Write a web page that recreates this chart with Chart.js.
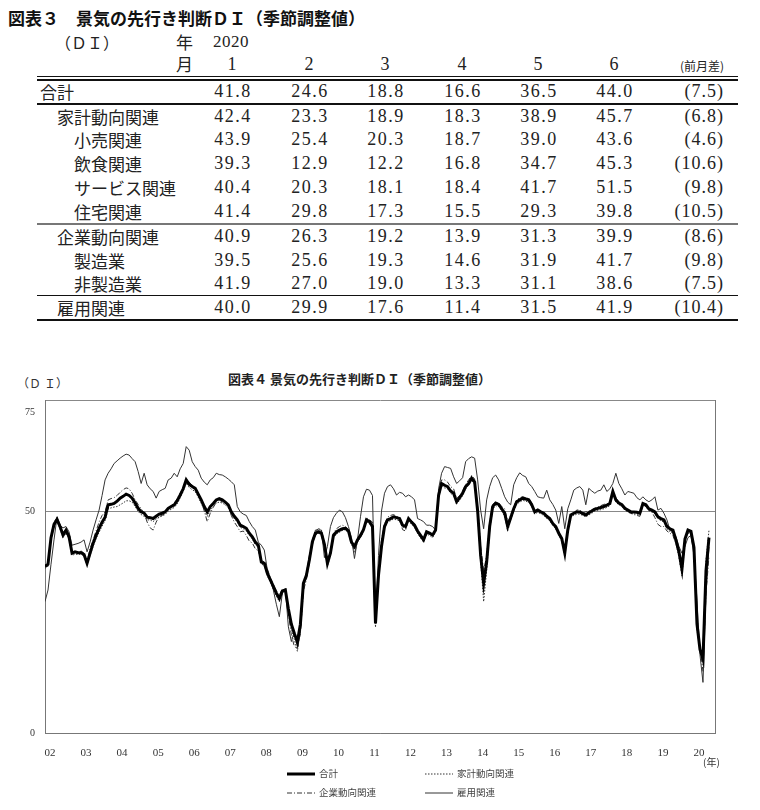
<!DOCTYPE html>
<html>
<head>
<meta charset="utf-8">
<script src="https://cdn.jsdelivr.net/npm/chart.js@4.4.0/dist/chart.umd.min.js"></script>
<style>
  body { margin: 0; background: #fff; width: 760px; height: 810px; position: relative; overflow: hidden;
         font-family: "Noto Sans CJK JP", sans-serif; color: #222; }
  .abs { position: absolute; white-space: nowrap; }
  .lbl { font-size: 17px; }
  .num { font-family: "Liberation Serif", serif; font-size: 18px; letter-spacing: 1.5px; }
  .rule { position: absolute; left: 37px; width: 701px; background: #111; }
  #chart { position: absolute; left: 0; top: 365px; }
  .leg { position: absolute; font-size: 9.5px; color: #444; }
  .leg svg { vertical-align: middle; margin-right: 4px; }
</style>
</head>
<body>
<div class="abs" style="left:8px;top:5px;font-size:17px;font-weight:bold;color:#111;">図表３　景気の先行き判断ＤＩ（季節調整値）</div>
<div id="table"></div>

<div class="abs" style="left:17px;top:374px;font-size:12px;font-family:'Liberation Serif','Noto Sans CJK JP',serif;color:#333;">（Ｄ Ｉ）</div>
<div class="abs" style="left:228px;top:369px;font-size:13px;font-weight:bold;color:#222;">図表４ 景気の先行き判断ＤＩ（季節調整値）</div>
<canvas id="chart" width="760" height="400"></canvas>
<div class="abs" style="left:703px;top:754px;font-size:10px;color:#333;">(年)</div>

<div class="leg" style="left:287px;top:766px;"><svg width="28" height="6"><line x1="0" y1="3" x2="28" y2="3" stroke="#000" stroke-width="3"/></svg>合計</div>
<div class="leg" style="left:425px;top:766px;"><svg width="28" height="6"><line x1="0" y1="3" x2="28" y2="3" stroke="#333" stroke-width="1" stroke-dasharray="1.5,1.5"/></svg>家計動向関連</div>
<div class="leg" style="left:287px;top:785px;"><svg width="28" height="6"><line x1="0" y1="3" x2="28" y2="3" stroke="#333" stroke-width="1" stroke-dasharray="5,2,1,2"/></svg>企業動向関連</div>
<div class="leg" style="left:425px;top:785px;"><svg width="28" height="6"><line x1="0" y1="3" x2="28" y2="3" stroke="#333" stroke-width="1"/></svg>雇用関連</div>

<script>
// ---- table data (2020, Jan-Jun) ----
const tableYear = "2020";
const tableMonths = ["1", "2", "3", "4", "5", "6"];
const tableRows = ["合計", "家計動向関連", "小売関連", "飲食関連", "サービス関連", "住宅関連",
                   "企業動向関連", "製造業", "非製造業", "雇用関連"];
const tableValues = [
  [41.8, 24.6, 18.8, 16.6, 36.5, 44.0],
  [42.4, 23.3, 18.9, 18.3, 38.9, 45.7],
  [43.9, 25.4, 20.3, 18.7, 39.0, 43.6],
  [39.3, 12.9, 12.2, 16.8, 34.7, 45.3],
  [40.4, 20.3, 18.1, 18.4, 41.7, 51.5],
  [41.4, 29.8, 17.3, 15.5, 29.3, 39.8],
  [40.9, 26.3, 19.2, 13.9, 31.3, 39.9],
  [39.5, 25.6, 19.3, 14.6, 31.9, 41.7],
  [41.9, 27.0, 19.0, 13.3, 31.1, 38.6],
  [40.0, 29.9, 17.6, 11.4, 31.5, 41.9]
];
const tableDiffs = [7.5, 6.8, 4.6, 10.6, 9.8, 10.5, 8.6, 9.8, 7.5, 10.4];

// ---- chart data: monthly, Jan 2002 - Jun 2020 ----
const yearTicks = ["02","03","04","05","06","07","08","09","10","11","12","13","14","15","16","17","18","19","20"];
const yTicks = [0, 50, 75];

const total = [
  37.5, 38.0, 44.0, 47.0, 48.1, 46.5, 44.6, 45.7, 44.2, 40.5, 40.8, 40.6, // 2002
  40.6, 40.2, 38.2, 40.5, 42.7, 44.5, 46.1, 47.5, 48.6, 51.4, 51.5, 51.7, // 2003
  52.2, 52.9, 53.3, 53.8, 53.5, 52.9, 51.8, 50.6, 49.8, 49.5, 48.6, 48.5, // 2004
  48.3, 48.8, 49.3, 49.5, 49.8, 50.6, 51.0, 51.4, 52.3, 53.6, 55.0, 57.0, // 2005
  56.0, 55.5, 55.1, 53.8, 52.5, 51.0, 49.8, 51.0, 51.7, 52.5, 52.8, 52.5, // 2006
  52.0, 51.4, 49.8, 48.8, 48.0, 46.8, 46.5, 46.1, 45.0, 44.2, 43.0, 42.3, // 2007
  38.5, 38.2, 36.0, 34.5, 33.0, 31.5, 30.3, 32.0, 32.2, 28.0, 24.5, 22.4, // 2008
  20.5, 24.5, 33.7, 35.5, 39.0, 43.1, 45.0, 45.3, 45.0, 42.5, 38.2, 40.5, // 2009
  44.5, 45.3, 45.7, 46.0, 46.1, 45.5, 43.0, 42.0, 43.5, 44.5, 45.8, 48.0, // 2010
  47.6, 46.5, 24.7, 35.5, 42.0, 46.5, 48.0, 48.3, 48.7, 48.5, 48.3, 46.8, // 2011
  46.5, 48.3, 47.5, 46.8, 45.5, 44.5, 43.5, 45.3, 45.0, 44.6, 45.7, 53.5, // 2012
  56.2, 55.8, 55.5, 54.5, 54.0, 52.1, 53.0, 54.0, 55.5, 56.2, 57.4, 56.5, // 2013
  50.0, 40.0, 33.7, 38.5, 46.5, 51.0, 51.8, 51.5, 50.5, 49.5, 46.5, 48.5, // 2014
  50.5, 52.1, 52.5, 52.9, 52.7, 52.5, 51.4, 49.8, 50.2, 49.8, 49.5, 48.8, // 2015
  48.3, 47.2, 46.5, 45.0, 43.8, 40.5, 45.7, 49.1, 49.5, 49.8, 49.8, 49.4, // 2016
  49.1, 49.6, 50.0, 50.4, 50.6, 50.8, 51.0, 51.3, 51.7, 54.4, 52.5, 51.8, // 2017
  51.4, 50.6, 50.2, 49.8, 49.8, 49.7, 49.5, 51.7, 51.4, 50.5, 50.2, 49.8, // 2018
  48.7, 48.3, 48.0, 46.5, 46.0, 45.7, 43.5, 40.8, 36.9, 43.7, 45.7, 45.4, // 2019
  41.8, 24.6, 18.8, 16.6, 36.5, 44.0                                      // 2020
];

const household = [
  37.0, 38.3, 43.5, 46.5, 47.6, 46.0, 44.0, 45.0, 43.6, 40.0, 40.3, 40.2,
  40.3, 39.8, 37.8, 40.0, 42.0, 43.8, 45.2, 46.6, 47.8, 50.5, 50.7, 50.9,
  51.0, 51.4, 51.8, 52.3, 52.3, 52.0, 51.0, 49.9, 49.2, 48.8, 48.0, 48.0,
  47.6, 48.2, 48.6, 48.9, 49.2, 50.0, 50.4, 50.8, 51.6, 53.0, 54.4, 56.3,
  55.3, 54.8, 54.4, 53.1, 51.7, 50.2, 48.8, 50.2, 51.0, 51.8, 52.0, 51.8,
  51.4, 50.7, 49.2, 48.3, 47.5, 46.3, 46.0, 45.5, 44.5, 43.7, 42.4, 41.8,
  38.0, 37.8, 35.4, 34.0, 32.4, 30.8, 29.6, 31.6, 31.8, 27.4, 23.6, 21.0,
  18.4, 23.2, 33.0, 35.0, 38.5, 42.7, 44.6, 45.0, 44.6, 42.0, 37.6, 40.0,
  44.0, 44.8, 45.2, 45.6, 45.8, 45.0, 42.4, 41.4, 43.0, 44.0, 45.3, 47.6,
  47.2, 46.0, 23.8, 34.8, 41.5, 46.0, 47.6, 47.8, 48.2, 48.0, 47.8, 46.4,
  46.0, 47.8, 47.0, 46.3, 45.0, 44.0, 43.0, 44.8, 44.5, 44.0, 45.2, 53.0,
  55.8, 55.2, 55.0, 54.0, 53.4, 51.6, 52.4, 53.5, 55.0, 55.8, 57.0, 56.0,
  49.0, 38.5, 29.6, 36.5, 45.5, 50.4, 51.2, 51.0, 50.0, 48.8, 45.5, 47.8,
  50.0, 51.6, 52.0, 52.4, 52.2, 52.0, 51.0, 49.3, 49.7, 49.4, 49.0, 48.3,
  47.8, 46.7, 46.0, 44.5, 43.2, 40.0, 45.2, 48.7, 49.0, 49.3, 49.3, 49.0,
  48.7, 49.1, 49.5, 50.0, 50.1, 50.3, 50.5, 50.8, 51.2, 53.8, 52.0, 51.4,
  51.0, 50.2, 49.8, 49.4, 49.4, 49.3, 49.0, 51.2, 51.0, 50.0, 49.8, 49.4,
  48.3, 47.8, 47.5, 46.0, 45.4, 45.0, 42.7, 39.5, 35.4, 43.0, 45.2, 45.0,
  42.4, 23.3, 18.9, 18.3, 38.9, 45.7
];

const corporate = [
  38.0, 37.5, 44.5, 47.5, 48.5, 47.0, 45.0, 46.0, 44.0, 40.5, 40.8, 40.5,
  41.0, 40.5, 38.5, 41.5, 43.5, 45.5, 47.5, 49.0, 49.8, 52.5, 52.8, 53.0,
  53.5, 54.2, 54.8, 55.2, 55.0, 54.0, 52.5, 51.5, 50.5, 49.5, 47.5, 46.2,
  45.7, 47.5, 48.8, 49.0, 49.5, 50.6, 51.2, 51.8, 52.8, 54.0, 55.2, 57.2,
  56.5, 55.8, 55.2, 53.8, 52.2, 50.0, 47.6, 49.5, 50.8, 52.0, 52.5, 52.0,
  51.8, 51.0, 49.0, 47.5, 46.5, 45.3, 45.5, 44.5, 43.2, 42.8, 41.5, 41.0,
  39.0, 38.5, 37.0, 35.0, 33.5, 32.0, 31.0, 32.5, 32.0, 27.0, 22.0, 19.5,
  19.0, 22.5, 32.0, 34.5, 38.5, 43.5, 45.5, 46.0, 45.8, 42.8, 39.0, 40.8,
  45.0, 46.0, 46.5, 46.8, 46.5, 45.8, 43.5, 40.5, 43.0, 44.8, 46.0, 48.5,
  48.0, 47.5, 26.5, 37.0, 43.5, 47.0, 48.6, 49.0, 49.2, 48.8, 48.5, 45.8,
  45.5, 48.5, 47.8, 47.0, 45.0, 44.0, 43.0, 45.5, 45.0, 44.5, 45.5, 54.5,
  57.0, 57.0, 56.5, 55.5, 55.0, 52.8, 53.5, 54.5, 56.0, 57.0, 58.0, 57.2,
  51.0, 42.0, 36.5, 40.0, 47.5, 51.5, 52.0, 51.8, 51.0, 50.5, 47.5, 49.0,
  51.0, 52.5, 53.0, 53.2, 53.0, 52.8, 51.8, 50.0, 50.5, 50.0, 49.6, 48.5,
  48.0, 47.0, 46.0, 45.0, 44.0, 40.8, 45.5, 49.0, 49.6, 50.2, 50.3, 49.6,
  49.8, 50.0, 50.3, 50.6, 50.9, 51.2, 51.5, 51.6, 52.0, 54.8, 53.0, 52.0,
  51.5, 50.5, 50.0, 49.5, 49.2, 49.0, 48.8, 51.5, 51.0, 50.2, 49.8, 48.5,
  47.0, 46.5, 46.5, 45.5, 45.0, 44.5, 42.5, 40.5, 39.0, 43.5, 45.0, 44.5,
  40.9, 26.3, 19.2, 13.9, 31.3, 39.9
];

const employment = [
  29.6, 32.2, 38.0, 43.5, 48.7, 46.8, 46.2, 46.5, 45.3, 42.3, 42.5, 42.7,
  43.0, 43.5, 40.8, 43.0, 45.7, 48.0, 50.2, 53.5, 57.0, 58.5, 59.5, 60.7,
  61.3, 61.9, 62.4, 62.8, 62.6, 61.8, 61.1, 58.9, 56.2, 58.5, 55.9, 55.0,
  54.4, 52.9, 54.4, 54.8, 55.1, 57.0, 57.4, 58.5, 57.7, 59.5, 60.7, 64.5,
  63.7, 61.1, 60.0, 59.2, 57.4, 56.5, 55.9, 57.0, 57.5, 58.5, 58.2, 58.1,
  57.7, 57.2, 56.6, 55.9, 51.0, 49.8, 49.3, 49.0, 47.6, 46.5, 45.7, 43.0,
  42.3, 41.2, 36.7, 34.5, 32.2, 29.0, 26.2, 31.5, 32.6, 23.9, 20.6, 22.8,
  19.4, 22.4, 33.0, 36.0, 40.0, 42.3, 45.7, 45.7, 45.7, 39.5, 42.0, 46.5,
  48.5, 49.5, 50.2, 49.8, 48.5, 46.5, 44.0, 39.3, 43.5, 48.7, 53.2, 54.9,
  54.7, 53.5, 25.4, 40.0, 50.0, 54.0, 55.5, 55.9, 55.0, 53.6, 54.2, 54.0,
  53.2, 53.6, 53.2, 52.5, 48.3, 48.0, 47.6, 46.8, 46.8, 46.5, 45.7, 55.0,
  58.5, 60.0, 59.8, 59.6, 57.7, 56.2, 56.8, 57.5, 61.1, 61.8, 62.2, 61.9,
  57.0, 50.2, 46.0, 52.5, 55.5, 57.5, 58.1, 57.0, 55.1, 53.2, 52.0, 51.4,
  55.9, 57.5, 58.6, 58.0, 57.7, 56.2, 55.5, 54.4, 53.2, 53.0, 52.9, 54.7,
  52.5, 51.5, 50.2, 47.2, 51.0, 46.0, 50.5, 52.5, 54.7, 55.2, 55.5, 54.7,
  51.4, 55.1, 54.5, 54.0, 54.5, 54.7, 55.9, 54.4, 55.0, 56.2, 58.5, 56.2,
  55.0, 53.6, 54.4, 54.2, 54.0, 53.0, 52.5, 53.2, 52.5, 52.1, 52.5, 53.2,
  50.2, 50.6, 49.5, 48.0, 45.7, 45.0, 44.2, 42.0, 40.5, 42.0, 44.0, 44.5,
  40.0, 29.9, 17.6, 11.4, 31.5, 41.9
];

// ---- table rendering ----
const tbl = document.getElementById("table");
function put(text, x, yc, h, cls, align, extra) {
  const d = document.createElement("div");
  d.className = "abs " + (cls || "");
  d.textContent = text;
  d.style.top = (yc - h / 2) + "px";
  d.style.height = h + "px";
  d.style.lineHeight = h + "px";
  if (align === "center") { d.style.left = (x - 60) + "px"; d.style.width = "120px"; d.style.textAlign = "center"; }
  else if (align === "right") { d.style.left = (x - 150) + "px"; d.style.width = "150px"; d.style.textAlign = "right"; }
  else { d.style.left = x + "px"; }
  if (extra) Object.assign(d.style, extra);
  tbl.appendChild(d);
}
function rule(y, h, color) {
  const d = document.createElement("div");
  d.className = "rule";
  d.style.top = y + "px";
  d.style.height = h + "px";
  if (color) d.style.background = color;
  tbl.appendChild(d);
}

const colX = [232, 309, 385, 462, 538, 614];
const diffRight = 724;
put("（ＤＩ）", 55, 42, 22, "lbl", "left", { fontSize: "16px" });
put("年", 193, 42, 22, "lbl", "right");
put(tableYear, 213, 42, 22, "num", "left", { fontSize: "17px", letterSpacing: "0.5px" });
put("月", 193, 64, 22, "lbl", "right");
tableMonths.forEach((m, i) => put(m, colX[i], 64, 22, "num", "center", { letterSpacing: "0" }));
put("(前月差)", diffRight, 66, 18, "", "right", { fontSize: "12px" });

rule(75.5, 1.5);
rule(79, 1.5);
const rowY = [91.5, 116.5, 139.5, 163, 187, 211, 236.5, 260, 283.5, 307.5];
const rowIndent = [40, 57, 74, 74, 74, 74, 57, 74, 74, 57];
tableRows.forEach((name, r) => {
  put(name, rowIndent[r], rowY[r], 23, "lbl", "left");
  tableValues[r].forEach((v, i) => put(v.toFixed(1), colX[i] + 1, rowY[r], 23, "num", "center"));
  put("(" + tableDiffs[r].toFixed(1) + ")", diffRight, rowY[r], 23, "num", "right", { letterSpacing: "1px" });
});
rule(102.5, 2.5);
rule(222.5, 2, "#777");
rule(295, 1.3);
rule(318.5, 2.5);

// ---- chart ----
const pts = arr => arr.map((v, i) => ({ x: i, y: v }));
const tickFont = { family: "Liberation Serif", size: 11 };

new Chart(document.getElementById("chart").getContext("2d"), {
  type: "line",
  data: {
    datasets: [
      { label: "合計", data: pts(total), borderColor: "#000", borderWidth: 3 },
      { label: "家計動向関連", data: pts(household), borderColor: "#333", borderWidth: 1, borderDash: [1.5, 1.5] },
      { label: "企業動向関連", data: pts(corporate), borderColor: "#333", borderWidth: 1, borderDash: [5, 2, 1, 2] },
      { label: "雇用関連", data: pts(employment), borderColor: "#333", borderWidth: 1 }
    ]
  },
  options: {
    responsive: false,
    animation: false,
    elements: { point: { radius: 0 }, line: { tension: 0, fill: false } },
    layout: { padding: { top: 35, right: 45, bottom: 0, left: 0 } },
    plugins: { legend: { display: false }, tooltip: { enabled: false } },
    scales: {
      x: {
        type: "linear", min: 0, max: 223,
        afterBuildTicks: ax => { ax.ticks = yearTicks.map((t, i) => ({ value: i * 12 })); },
        afterFit: s => { s.height = 32; },
        ticks: { autoSkip: false, maxRotation: 0, labelOffset: 5, padding: 6, font: tickFont, color: "#333",
                 callback: v => yearTicks[Math.round(v / 12)] },
        grid: { display: false },
        border: { display: true, color: "#777" }
      },
      y: {
        min: 0, max: 75,
        afterBuildTicks: ax => { ax.ticks = yTicks.map(v => ({ value: v })); },
        afterFit: s => { s.width = 45; },
        // top label sits a little below the frame in the original
        ticks: { padding: 10, font: { family: "Liberation Serif", size: 10 }, color: "#333",
                 callback: v => v === 75 ? ["", "", "75"] : String(v) },
        grid: { color: "#888", lineWidth: 1, drawTicks: false },
        border: { color: "#777" }
      },
      y2: {
        position: "right", min: 0, max: 75,
        afterFit: s => { s.width = 0; },
        ticks: { display: false },
        grid: { drawOnChartArea: false, drawTicks: false },
        border: { color: "#777" }
      }
    }
  }
});
</script>
</body>
</html>
